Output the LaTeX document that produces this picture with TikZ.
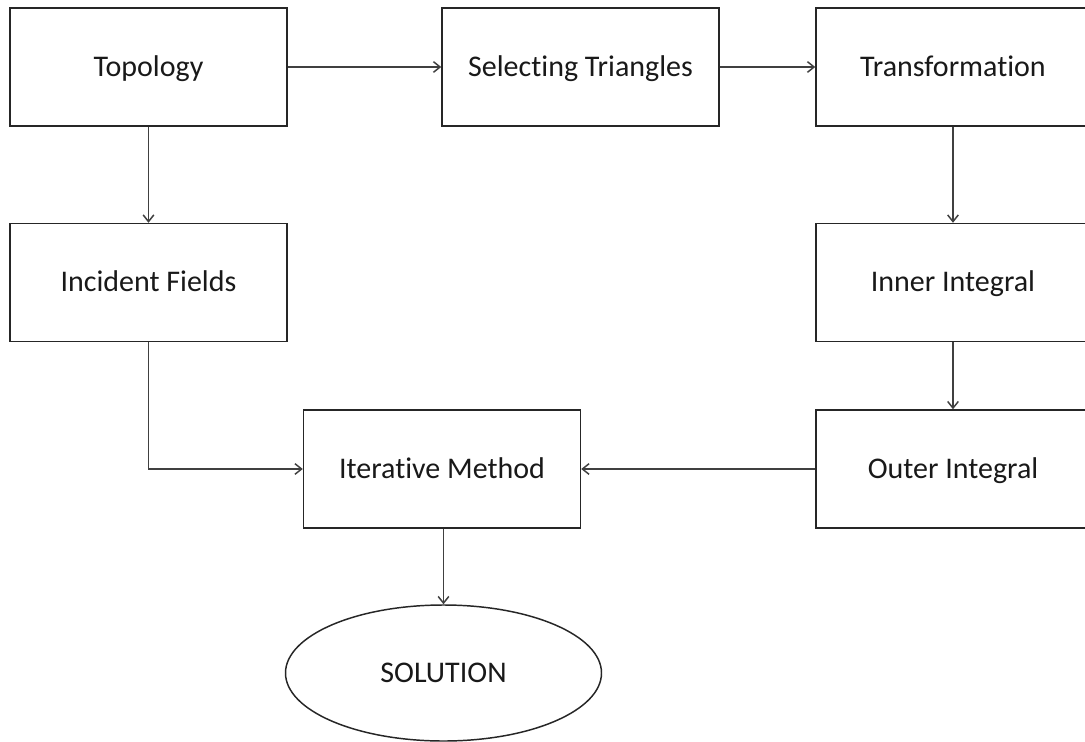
\documentclass[tikz,border=0pt]{standalone}
\usepackage{fontspec}
\setmainfont{Carlito}[Ligatures={NoCommon}]
\usetikzlibrary{arrows.meta,shapes.geometric}
\begin{document}
\begin{tikzpicture}[x=0.75pt,y=-0.75pt,
  lbl/.style={font=\fontsize{22.5}{24}\selectfont, text=black!90, text height=16pt, text depth=1.8pt},
  box/.style={draw=black!85, line width=1.1pt, minimum width=277*0.75pt, minimum height=118*0.75pt, inner sep=0pt, lbl},
  oval/.style={draw=black!85, line width=1.1pt, ellipse, minimum width=316*0.75pt, minimum height=136*0.75pt, inner sep=0pt, lbl},
  conn/.style={draw=black!75, line width=1.1pt, -{Straight Barb[length=5pt,width=8pt,line width=1.1pt]}}]
\useasboundingbox (0,0) rectangle (1085,742);
\clip (0,0) rectangle (1085,742);
\fill[white] (0,0) rectangle (1085,742);
\node[box] (topo) at (148.5,67) {Topology};
\node[box] (sel) at (580.5,67) {Selecting Triangles};
\node[box, minimum width=280*0.75pt] (trans) at (956,67) {};
\node[lbl] (transl) at (953,67) {Transformation};
\node[box] (inc) at (148.5,282.5) {Incident Fields};
\node[box, minimum width=280*0.75pt] (inner) at (956,282.5) {};
\node[lbl] (innerl) at (953,282.5) {Inner Integral};
\node[box] (iter) at (442,469) {Iterative Method};
\node[box, minimum width=280*0.75pt] (outer) at (956,469) {};
\node[lbl] (outerl) at (953,469) {Outer Integral};
\node[oval] (sol) at (443.5,673) {SOLUTION};
\draw[conn] (topo.east) -- (sel.west);
\draw[conn] (sel.east) -- (trans.west);
\draw[conn] (topo.south) -- (inc.north);
\draw[conn] (transl.center |- trans.south) -- (transl.center |- inner.north);
\draw[conn] (innerl.center |- inner.south) -- (innerl.center |- outer.north);
\draw[conn] (inc.south) |- (iter.west);
\draw[conn] (outer.west) -- (iter.east);
\draw[conn] (iter.south -| sol.north) -- (sol.north);
\end{tikzpicture}
\end{document}
